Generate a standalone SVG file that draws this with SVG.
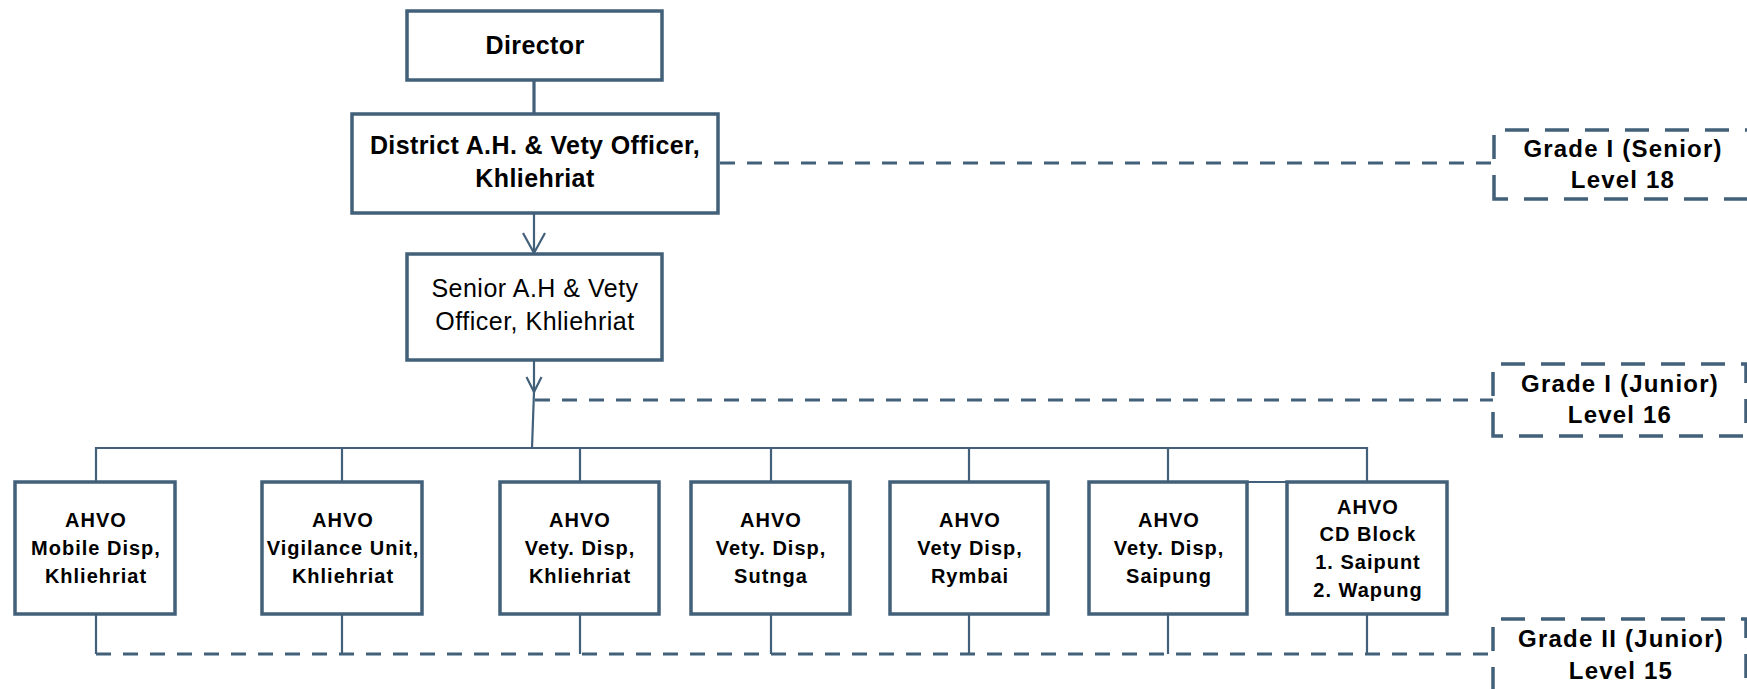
<svg xmlns="http://www.w3.org/2000/svg" width="1747" height="689" viewBox="0 0 1747 689">
<style>
.box{fill:#fff;stroke:#42607a;stroke-width:3.5}
.gbox{fill:#fff;stroke:#42607a;stroke-width:3.5;stroke-dasharray:24 16}
.ln{fill:none;stroke:#42607a;stroke-width:2.2}
.thick{fill:none;stroke:#42607a;stroke-width:3.2}
.dash{fill:none;stroke:#42607a;stroke-width:3;stroke-dasharray:15 12}
text{font-family:"Liberation Sans",Arial,sans-serif;fill:#000;text-anchor:middle}
.tb{font-size:25px;font-weight:bold;letter-spacing:0.4px}
.tr{font-size:25px;letter-spacing:0.5px}
.ta{font-size:20px;font-weight:bold;letter-spacing:1px}
.tg{font-size:24px;font-weight:bold;letter-spacing:1.2px}
</style>
<g id="connectors">
<line class="thick" x1="534" y1="80" x2="534" y2="114"/>
<line class="ln" x1="534" y1="213" x2="534" y2="252"/>
<polyline class="ln" points="523,233 534,253 545,233"/>
<line class="ln" x1="534" y1="360" x2="534" y2="392"/>
<polyline class="ln" points="526.5,377 534,392 541.5,377"/>
<line class="ln" x1="534" y1="392" x2="532" y2="448"/>
<line class="dash" x1="720" y1="163" x2="1494" y2="163"/>
<line class="dash" x1="535" y1="400" x2="1493" y2="400"/>
<polyline class="ln" points="96,482 96,448 1367,448 1367,482"/>
<line class="ln" x1="342" y1="448" x2="342" y2="482"/>
<line class="ln" x1="580" y1="448" x2="580" y2="482"/>
<line class="ln" x1="771" y1="448" x2="771" y2="482"/>
<line class="ln" x1="969" y1="448" x2="969" y2="482"/>
<line class="ln" x1="1168" y1="448" x2="1168" y2="482"/>
<line class="ln" x1="1247" y1="482" x2="1287" y2="482"/>
<line class="ln" x1="96" y1="614" x2="96" y2="654"/>
<line class="ln" x1="342" y1="614" x2="342" y2="654"/>
<line class="ln" x1="580" y1="614" x2="580" y2="654"/>
<line class="ln" x1="771" y1="614" x2="771" y2="654"/>
<line class="ln" x1="969" y1="614" x2="969" y2="654"/>
<line class="ln" x1="1168" y1="614" x2="1168" y2="654"/>
<line class="ln" x1="1367" y1="614" x2="1367" y2="654"/>
<line class="dash" x1="96" y1="654" x2="1492" y2="654"/>
</g>
<g id="director">
<rect class="box" x="407" y="11" width="255" height="69"/>
<text class="tb" x="535" y="54">Director</text>
</g>
<g id="district">
<rect class="box" x="352" y="114" width="366" height="99"/>
<text class="tb" x="535" y="154">District A.H. &amp; Vety Officer,</text>
<text class="tb" x="535" y="187">Khliehriat</text>
</g>
<g id="senior">
<rect class="box" x="407" y="254" width="255" height="106"/>
<text class="tr" x="535" y="297">Senior A.H &amp; Vety</text>
<text class="tr" x="535" y="330">Officer, Khliehriat</text>
</g>
<g id="ahvo1">
<rect class="box" x="15" y="482" width="160" height="132"/>
<text class="ta" x="96" y="527">AHVO</text>
<text class="ta" x="96" y="555">Mobile Disp,</text>
<text class="ta" x="96" y="583">Khliehriat</text>
</g>
<g id="ahvo2">
<rect class="box" x="262" y="482" width="160" height="132"/>
<text class="ta" x="343" y="527">AHVO</text>
<text class="ta" x="343" y="555">Vigilance Unit,</text>
<text class="ta" x="343" y="583">Khliehriat</text>
</g>
<g id="ahvo3">
<rect class="box" x="500" y="482" width="159" height="132"/>
<text class="ta" x="580" y="527">AHVO</text>
<text class="ta" x="580" y="555">Vety. Disp,</text>
<text class="ta" x="580" y="583">Khliehriat</text>
</g>
<g id="ahvo4">
<rect class="box" x="691" y="482" width="159" height="132"/>
<text class="ta" x="771" y="527">AHVO</text>
<text class="ta" x="771" y="555">Vety. Disp,</text>
<text class="ta" x="771" y="583">Sutnga</text>
</g>
<g id="ahvo5">
<rect class="box" x="890" y="482" width="158" height="132"/>
<text class="ta" x="970" y="527">AHVO</text>
<text class="ta" x="970" y="555">Vety Disp,</text>
<text class="ta" x="970" y="583">Rymbai</text>
</g>
<g id="ahvo6">
<rect class="box" x="1089" y="482" width="158" height="132"/>
<text class="ta" x="1169" y="527">AHVO</text>
<text class="ta" x="1169" y="555">Vety. Disp,</text>
<text class="ta" x="1169" y="583">Saipung</text>
</g>
<g id="ahvo7">
<rect class="box" x="1287" y="482" width="160" height="132"/>
<text class="ta" x="1368" y="514">AHVO</text>
<text class="ta" x="1368" y="541">CD Block</text>
<text class="ta" x="1368" y="569">1. Saipunt</text>
<text class="ta" x="1368" y="597">2. Wapung</text>
</g>
<g id="grade1senior">
<path class="gbox" d="M1494,199 V130 H1752 V199 Z"/>
<text class="tg" x="1623" y="157">Grade I (Senior)</text>
<text class="tg" x="1623" y="188">Level 18</text>
</g>
<g id="grade1junior">
<path class="gbox" d="M1493,436 V364 H1746 V436 Z"/>
<text class="tg" x="1620" y="392">Grade I (Junior)</text>
<text class="tg" x="1620" y="423">Level 16</text>
</g>
<g id="grade2junior">
<path class="gbox" d="M1493,691 V619 H1746 V691 Z"/>
<text class="tg" x="1621" y="647">Grade II (Junior)</text>
<text class="tg" x="1621" y="679">Level 15</text>
</g>
</svg>
